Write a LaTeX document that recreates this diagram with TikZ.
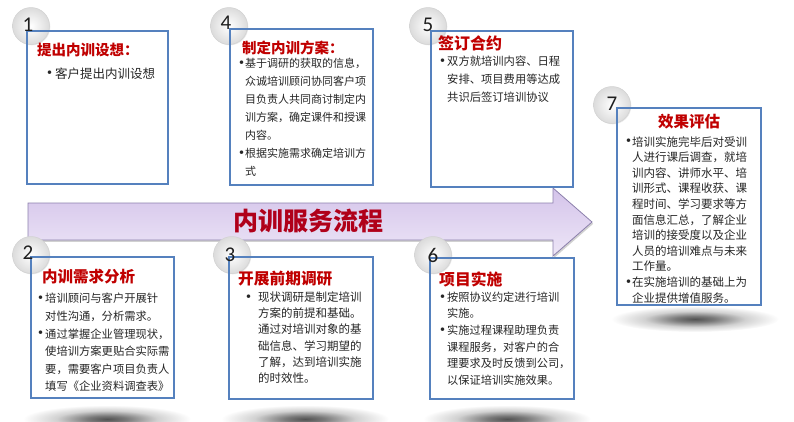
\documentclass[tikz,border=0pt]{standalone}
\usepackage{fontspec}
\setmainfont{Noto Sans CJK SC}
\newfontfamily\numfont{Carlito}
\usetikzlibrary{shadows}
\definecolor{boxblue}{HTML}{5581BE}
\definecolor{headred}{HTML}{C00000}
\definecolor{titlered}{HTML}{B0001A}
\definecolor{bodygray}{HTML}{262626}
\definecolor{numgray}{HTML}{1F1F1F}
\definecolor{arrowtop}{HTML}{D4C4EA}
\definecolor{arrowbot}{HTML}{EDE6F7}
\definecolor{arrowline}{HTML}{8C80AC}
\pgfdeclareradialshading{softshadow}{\pgfpoint{0bp}{0bp}}{color(0bp)=(black!68); color(6bp)=(black!52); color(15bp)=(black!18); color(25bp)=(white); color(50bp)=(white)}
\begin{document}
\begin{tikzpicture}[x=1pt,y=-1pt,
  cardfill/.style={fill=white, drop shadow={opacity=.22,shadow xshift=1.2pt,shadow yshift=-1.2pt}},
  cardline/.style={draw=boxblue, line width=1.5pt},
  badge/.style={circle, minimum size=37pt, inner sep=0pt, shade, inner color=white, outer color=gray!28,
     draw=gray!35, line width=0.5pt, drop shadow={opacity=.18,shadow xshift=.8pt,shadow yshift=-.8pt}},
  num/.style={font=\numfont\fontsize{21}{21}\selectfont, text=numgray, inner sep=0pt},
  head/.style={font=\bfseries\fontsize{#1}{#1}\selectfont, text=headred, inner sep=0pt, anchor=west},
  head/.default=15.5,
  bul/.style={font=\numfont\fontsize{10}{10}\selectfont, text=bodygray, inner sep=0pt, anchor=west},
  body/.style 2 args={font=\fontsize{#1}{#2}\selectfont, text=bodygray, inner sep=0pt, anchor=north west, align=left},
  shadowblob/.style={shading=softshadow}
]
\useasboundingbox (0,0) rectangle (794,421);
\clip (0,0) rectangle (794,421);

% soft floor shadows
\shade[shadowblob] (107,419) ellipse [x radius=84, y radius=14];
\shade[shadowblob] (305,419) ellipse [x radius=84, y radius=14];
\shade[shadowblob] (507,419) ellipse [x radius=84, y radius=14];
\shade[shadowblob] (695,319) ellipse [x radius=84, y radius=13];

% big arrow
\fill[black!40, opacity=.45, shift={(1.2,1.8)}] (28,203) -- (553,203) -- (553,188) -- (592,222) -- (553,256) -- (553,240) -- (28,240) -- cycle;
\shade[draw=arrowline, line width=0.8pt, top color=arrowtop, bottom color=arrowbot]
  (28,203) -- (553,203) -- (553,188) -- (592,222) -- (553,256) -- (553,240) -- (28,240) -- cycle;
\node[font=\bfseries\fontsize{25}{25}\selectfont, text=titlered, inner sep=0pt] (title) at (308,221) {内训服务流程};

% ---------- box 1
\fill[cardfill] (27,31) rectangle (168,184);
\node[badge] (c1) at (31,26) {};
\draw[cardline] (27,31) rectangle (168,184);
\node[num] (n1) at (28,25) {1};
\node[head=14.5] (h1) at (37,50) {提出内训设想：};
\node[bul] (b1) at (47,73) {•};
\node[body={12.5}{18}] (t1) at (55,67.2) {客户提出内训设想};

% ---------- box 4
\fill[cardfill] (230,29) rectangle (373,185);
\node[badge] (c4) at (229,26) {};
\draw[cardline] (230,29) rectangle (373,185);
\node[num] (n4) at (226,23) {4};
\node[head=14.5] (h4) at (242,48) {制定内训方案：};
\node[bul] (b4a) at (239,63) {•};
\node[body={11}{18}] (t4a) at (245,57.8) {基于调研的获取的信息，\\众诚培训顾问协同客户项\\目负责人共同商讨制定内\\训方案，确定课件和授课\\内容。};
\node[bul] (b4b) at (239,153) {•};
\node[body={11}{18}] (t4b) at (245,147.8) {根据实施需求确定培训方\\式};

% ---------- box 5
\fill[cardfill] (431,31) rectangle (573,187);
\node[badge] (c5) at (428,26) {};
\draw[cardline] (431,31) rectangle (573,187);
\node[num] (n5) at (428,25) {5};
\node[head=16] (h5) at (438,43) {签订合约};
\node[bul] (b5) at (440,61) {•};
\node[body={11.3}{18}] (t5) at (447,55.7) {双方就培训内容、日程\\安排、项目费用等达成\\共识后签订培训协议};

% ---------- box 7
\fill[cardfill] (617,108) rectangle (761,305);
\node[badge] (c7) at (612,105) {};
\draw[cardline] (617,108) rectangle (761,305);
\node[num] (n7) at (612,104) {7};
\node[head=15.5, anchor=center] (h7) at (689,122) {效果评估};
\node[bul] (b7a) at (626,141.5) {•};
\node[body={11.5}{15.6}] (t7a) at (632,136.1) {培训实施完毕后对受训\\人进行课后调查，就培\\训内容、讲师水平、培\\训形式、课程收获、课\\程时间、学习要求等方\\面信息汇总，了解企业\\培训的接受度以及企业\\人员的培训难点与未来\\工作量。};
\node[bul] (b7b) at (626,281.9) {•};
\node[body={11.5}{15.6}] (t7b) at (632,276.5) {在实施培训的基础上为\\企业提供增值服务。};

% ---------- box 2
\fill[cardfill] (31,257) rectangle (174,398);
\node[badge] (c2) at (31,255) {};
\draw[cardline] (31,257) rectangle (174,398);
\node[num] (n2) at (28,253) {2};
\node[head=15.5] (h2) at (42,277) {内训需求分析};
\node[bul] (b2a) at (38,298) {•};
\node[body={11.3}{17.6}] (t2a) at (45,292.7) {培训顾问与客户开展针\\对性沟通，分析需求。};
\node[bul] (b2b) at (38,333.5) {•};
\node[body={11.3}{17.6}] (t2b) at (45,328.2) {通过掌握企业管理现状，\\使培训方案更贴合实际需\\要，需要客户项目负责人\\填写《企业资料调查表》};

% ---------- box 3
\fill[cardfill] (229,257) rectangle (373,399);
\node[badge] (c3) at (232,255) {};
\draw[cardline] (229,257) rectangle (373,399);
\node[num] (n3) at (230,255) {3};
\node[head=15.7] (h3) at (238,279) {开展前期调研};
\node[bul] (b3) at (246,297) {•};
\node[body={11.5}{16.2}] (t3) at (258,291.6) {现状调研是制定培训\\方案的前提和基础。\\通过对培训对象的基\\础信息、学习期望的\\了解，达到培训实施\\的时效性。};

% ---------- box 6
\fill[cardfill] (430,258) rectangle (574,399);
\node[badge] (c6) at (433,255) {};
\draw[cardline] (430,258) rectangle (574,399);
\node[num] (n6) at (433,255) {6};
\node[head=15.8] (h6) at (439,279) {项目实施};
\node[bul] (b6a) at (440,297) {•};
\node[body={11.2}{16.6}] (t6a) at (447,291.7) {按照协议约定进行培训\\实施。};
\node[bul] (b6b) at (440,330.2) {•};
\node[body={11.2}{16.6}] (t6b) at (447,324.9) {实施过程课程助理负责\\课程服务，对客户的合\\理要求及时反馈到公司，\\以保证培训实施效果。};
\end{tikzpicture}
\end{document}
